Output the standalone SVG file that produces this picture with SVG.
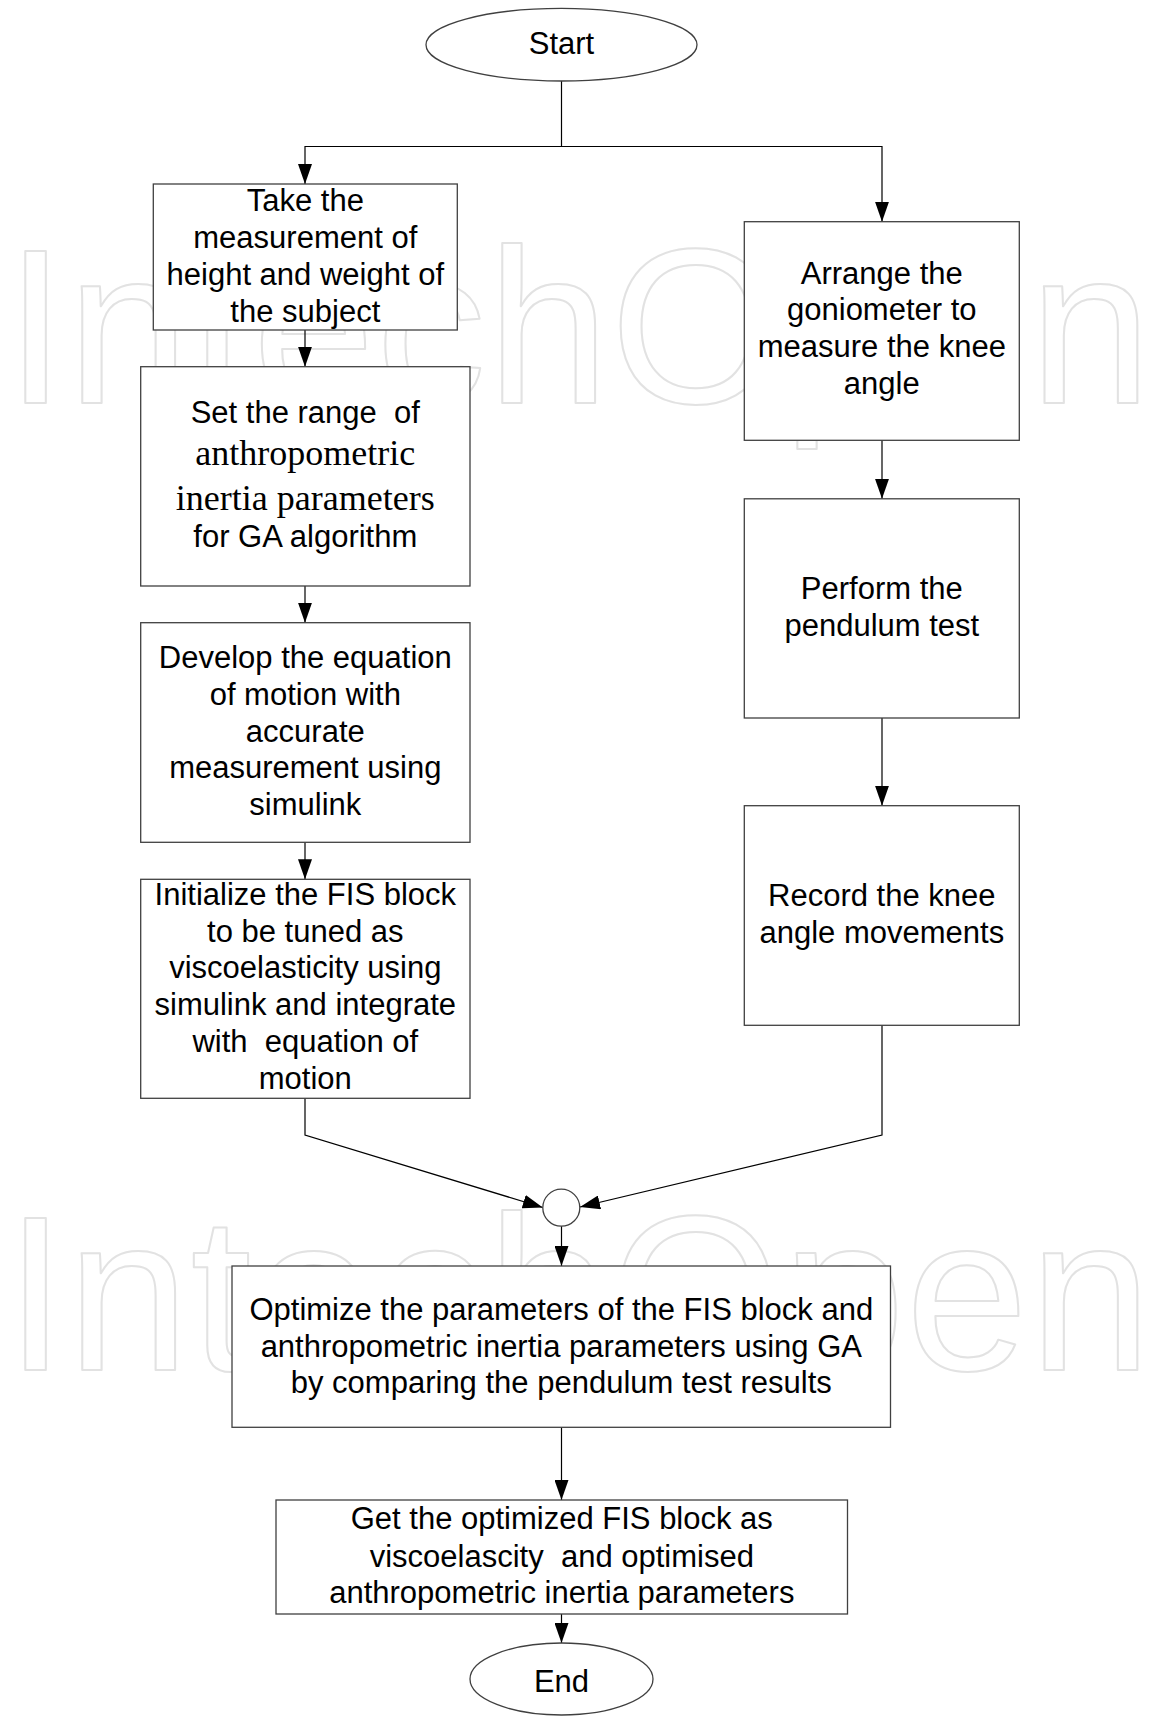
<svg xmlns="http://www.w3.org/2000/svg" width="1151" height="1716" viewBox="0 0 1151 1716">
<style>
.wm{font-family:"Liberation Sans",Arial,sans-serif;font-size:220px;fill:none;stroke:#e2e2e2;stroke-width:2;stroke-linejoin:round;letter-spacing:1px}
.box{fill:#fff;stroke:#404040;stroke-width:1.3}
.t{font-family:"Liberation Sans",Arial,sans-serif;font-size:31px;fill:#000;text-anchor:middle;white-space:pre}
.tr{font-family:"Liberation Serif","Times New Roman",serif;font-size:36px;fill:#000;text-anchor:middle}
.ln{fill:none;stroke:#000;stroke-width:1.2}
</style>
<defs>
<marker id="ah" markerWidth="20" markerHeight="14" refX="20" refY="7" orient="auto" markerUnits="userSpaceOnUse">
<path d="M0,0 L20,7 L0,14 z" fill="#000"/>
</marker>
</defs>
<rect width="1151" height="1716" fill="#fff"/>
<g id="watermark">
<text class="wm" x="5" y="403">IntechOpen</text>
<text class="wm" x="5" y="1370">IntechOpen</text>
</g>
<g id="connectors">
<polyline class="ln" points="561.5,81 561.5,146.5"/>
<polyline class="ln" points="882,146.5 305,146.5 305,184" marker-end="url(#ah)"/>
<polyline class="ln" points="561.5,146.5 882,146.5 882,221.7" marker-end="url(#ah)"/>
<line class="ln" x1="305" y1="330" x2="305" y2="366.7" marker-end="url(#ah)"/>
<line class="ln" x1="305" y1="586" x2="305" y2="622.7" marker-end="url(#ah)"/>
<line class="ln" x1="305" y1="842.3" x2="305" y2="879.3" marker-end="url(#ah)"/>
<polyline class="ln" points="305,1098.3 305,1135 542.8,1207.5" marker-end="url(#ah)"/>
<line class="ln" x1="882" y1="440.3" x2="882" y2="498.8" marker-end="url(#ah)"/>
<line class="ln" x1="882" y1="718" x2="882" y2="805.7" marker-end="url(#ah)"/>
<polyline class="ln" points="882,1025.3 882,1135 580,1207" marker-end="url(#ah)"/>
<line class="ln" x1="561.5" y1="1226" x2="561.5" y2="1266" marker-end="url(#ah)"/>
<line class="ln" x1="561.5" y1="1427.3" x2="561.5" y2="1500" marker-end="url(#ah)"/>
<line class="ln" x1="561.5" y1="1614" x2="561.5" y2="1643" marker-end="url(#ah)"/>
</g>
<g id="start">
<ellipse class="box" cx="561.5" cy="44.7" rx="135.5" ry="36.3"/>
<text class="t" x="561.5" y="54">Start</text>
</g>
<g id="measure">
<rect class="box" x="153.3" y="184" width="304" height="146"/>
<text class="t" x="305.3" y="210.7">Take the</text>
<text class="t" x="305.3" y="247.7">measurement of</text>
<text class="t" x="305.3" y="284.7">height and weight of</text>
<text class="t" x="305.3" y="321.7">the subject</text>
</g>
<g id="range">
<rect class="box" x="140.7" y="366.7" width="329.3" height="219.3"/>
<text class="t" x="305.3" y="423.3" xml:space="preserve">Set the range  of</text>
<text class="tr" x="305.3" y="465">anthropometric</text>
<text class="tr" x="305.3" y="509.5">inertia parameters</text>
<text class="t" x="305.3" y="547">for GA algorithm</text>
</g>
<g id="develop">
<rect class="box" x="140.7" y="622.7" width="329.3" height="219.6"/>
<text class="t" x="305.3" y="668.3">Develop the equation</text>
<text class="t" x="305.3" y="705">of motion with</text>
<text class="t" x="305.3" y="741.7">accurate</text>
<text class="t" x="305.3" y="778.3">measurement using</text>
<text class="t" x="305.3" y="815">simulink</text>
</g>
<g id="initialize">
<rect class="box" x="140.7" y="879.3" width="329.3" height="219"/>
<text class="t" x="305.3" y="905">Initialize the FIS block</text>
<text class="t" x="305.3" y="941.7">to be tuned as</text>
<text class="t" x="305.3" y="978.3">viscoelasticity using</text>
<text class="t" x="305.3" y="1015">simulink and integrate</text>
<text class="t" x="305.3" y="1052.3" xml:space="preserve">with  equation of</text>
<text class="t" x="305.3" y="1089">motion</text>
</g>
<g id="arrange">
<rect class="box" x="744.3" y="221.7" width="275" height="218.6"/>
<text class="t" x="881.8" y="283.6">Arrange the</text>
<text class="t" x="881.8" y="320.4">goniometer to</text>
<text class="t" x="881.8" y="357.2">measure the knee</text>
<text class="t" x="881.8" y="393.8">angle</text>
</g>
<g id="pendulum">
<rect class="box" x="744.3" y="498.8" width="275" height="219.2"/>
<text class="t" x="881.8" y="598.8">Perform the</text>
<text class="t" x="881.8" y="636">pendulum test</text>
</g>
<g id="record">
<rect class="box" x="744.3" y="805.7" width="275" height="219.6"/>
<text class="t" x="881.8" y="906">Record the knee</text>
<text class="t" x="881.8" y="942.7">angle movements</text>
</g>
<g id="junction">
<circle class="box" cx="561.3" cy="1207.7" r="18.5"/>
</g>
<g id="optimize">
<rect class="box" x="232" y="1266" width="658.5" height="161.3"/>
<text class="t" x="561.3" y="1320">Optimize the parameters of the FIS block and</text>
<text class="t" x="561.3" y="1356.7">anthropometric inertia parameters using GA</text>
<text class="t" x="561.3" y="1392.7">by comparing the pendulum test results</text>
</g>
<g id="result">
<rect class="box" x="276" y="1500" width="571.5" height="114"/>
<text class="t" x="561.8" y="1529">Get the optimized FIS block as</text>
<text class="t" x="561.8" y="1566.7" xml:space="preserve">viscoelascity  and optimised</text>
<text class="t" x="561.8" y="1602.7">anthropometric inertia parameters</text>
</g>
<g id="end">
<ellipse class="box" cx="561.5" cy="1679" rx="91.5" ry="36"/>
<text class="t" x="561.5" y="1691.5">End</text>
</g>
</svg>
